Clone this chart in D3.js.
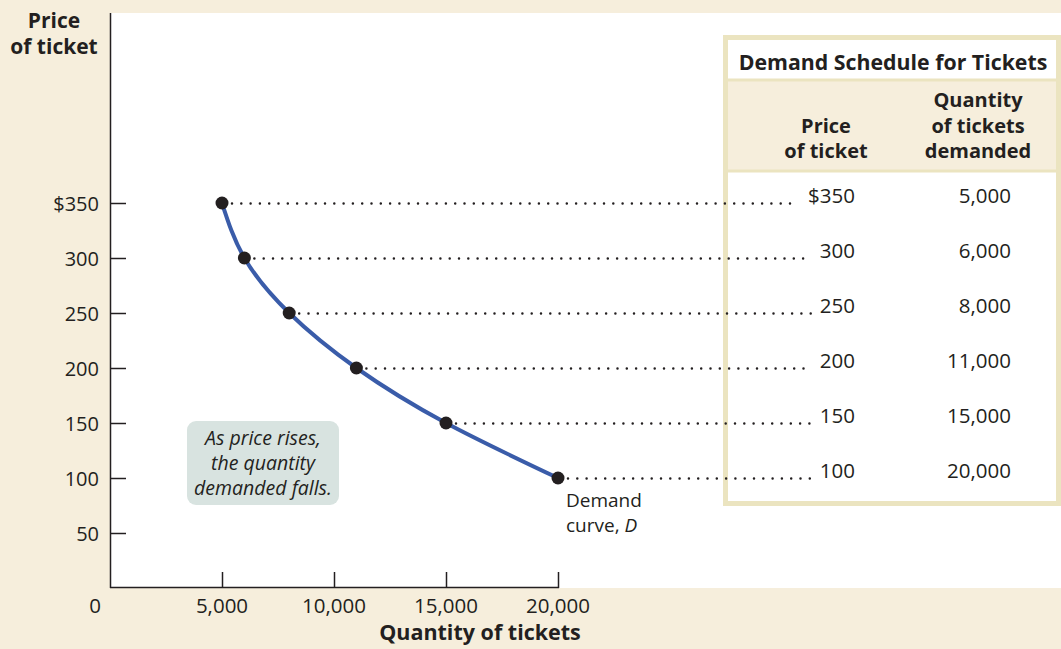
<!DOCTYPE html>
<html>
<head>
<meta charset="utf-8">
<script src="https://cdn.jsdelivr.net/npm/d3@7/dist/d3.min.js"></script>
<style>
  html, body { margin: 0; padding: 0; background: #f6eedc; }
  svg { display: block; font-family: "Open Sans", sans-serif; }
</style>
</head>
<body>
<div id="chart"></div>
<script>
'use strict';

// demand schedule
const prices = [350, 300, 250, 200, 150, 100];
const quantities = [5000, 6000, 8000, 11000, 15000, 20000];
const priceLabels = ['$350', '300', '250', '200', '150', '100'];
const quantityLabels = ['5,000', '6,000', '8,000', '11,000', '15,000', '20,000'];

// axis ticks
const yTicks = [50, 100, 150, 200, 250, 300, 350];
const yTickLabels = ['50', '100', '150', '200', '250', '300', '$350'];
const xTicks = [5000, 10000, 15000, 20000];
const xTickLabels = ['5,000', '10,000', '15,000', '20,000'];

const tableTitle = 'Demand Schedule for Tickets';
const priceHeader = ['Price', 'of ticket'];
const qtyHeader = ['Quantity', 'of tickets', 'demanded'];
const note = ['As price rises,', 'the quantity', 'demanded falls.'];

const W = 1061, H = 649;
const ink = '#231f20';
const beige = '#f6eedc';
const frame = '#ebe4c0';

const svg = d3.select('#chart').append('svg')
    .attr('width', W)
    .attr('height', H);

svg.append('rect')
    .attr('width', W)
    .attr('height', H)
    .attr('fill', beige);

// white panel
svg.append('rect')
    .attr('x', 110)
    .attr('y', 13)
    .attr('width', W - 110)
    .attr('height', 588 - 13)
    .attr('fill', '#fff');

const x = d3.scaleLinear().domain([0, 20000]).range([110, 558]);
const y = d3.scaleLinear().domain([0, 350]).range([588, 203]);

// table box (drawn under the leaders)
const tbl = svg.append('g');
tbl.append('rect')
    .attr('x', 725.5)
    .attr('y', 37.5)
    .attr('width', 333)
    .attr('height', 466)
    .attr('fill', '#fff')
    .attr('stroke', frame)
    .attr('stroke-width', 5);
tbl.append('rect')
    .attr('x', 728)
    .attr('y', 80)
    .attr('width', 328)
    .attr('height', 91)
    .attr('fill', beige);
[80, 171].forEach(yy => {
  tbl.append('line')
      .attr('x1', 728).attr('x2', 1056)
      .attr('y1', yy).attr('y2', yy)
      .attr('stroke', frame)
      .attr('stroke-width', 3);
});

tbl.append('text')
    .attr('x', 893)
    .attr('y', 70)
    .attr('text-anchor', 'middle')
    .attr('font-size', 21.3)
    .attr('font-weight', 'bold')
    .attr('fill', ink)
    .text(tableTitle);

priceHeader.forEach((t, i) => {
  tbl.append('text')
      .attr('x', 826)
      .attr('y', 133 + i * 25)
      .attr('text-anchor', 'middle')
      .attr('font-size', 20)
      .attr('font-weight', 'bold')
      .attr('fill', ink)
      .text(t);
});
qtyHeader.forEach((t, i) => {
  tbl.append('text')
      .attr('x', 978)
      .attr('y', 107 + i * 25.5)
      .attr('text-anchor', 'middle')
      .attr('font-size', 20)
      .attr('font-weight', 'bold')
      .attr('fill', ink)
      .text(t);
});

const priceText = tbl.selectAll('text.price')
  .data(prices)
  .join('text')
    .attr('class', 'price')
    .attr('x', 855)
    .attr('y', d => y(d))
    .attr('text-anchor', 'end')
    .attr('font-size', 20.5)
    .attr('fill', ink)
    .text((d, i) => priceLabels[i]);

tbl.selectAll('text.qty')
  .data(quantities)
  .join('text')
    .attr('class', 'qty')
    .attr('x', 1011)
    .attr('y', (d, i) => y(prices[i]))
    .attr('text-anchor', 'end')
    .attr('font-size', 20.5)
    .attr('fill', ink)
    .text((d, i) => quantityLabels[i]);

// dotted leaders from each point to the table row
const priceStarts = priceText.nodes().map(n => 855 - n.getComputedTextLength());
svg.append('g').selectAll('line')
  .data(prices)
  .join('line')
    .attr('x1', (d, i) => x(quantities[i]) + 10)
    .attr('x2', (d, i) => priceStarts[i] - 9)
    .attr('y1', d => y(d) + 0.5)
    .attr('y2', d => y(d) + 0.5)
    .attr('stroke', ink)
    .attr('stroke-width', 2.5)
    .attr('stroke-linecap', 'round')
    .attr('stroke-dasharray', '0,9.3');

// axes
svg.append('line')
    .attr('x1', 110.5).attr('x2', 110.5)
    .attr('y1', 13).attr('y2', 588)
    .attr('stroke', ink).attr('stroke-width', 1.5);
svg.append('line')
    .attr('x1', 110).attr('x2', x(20000) + 1)
    .attr('y1', 587.5).attr('y2', 587.5)
    .attr('stroke', ink).attr('stroke-width', 1.5);

svg.append('g').selectAll('line')
  .data(yTicks)
  .join('line')
    .attr('x1', 110).attr('x2', 126)
    .attr('y1', d => y(d) + 0.5).attr('y2', d => y(d) + 0.5)
    .attr('stroke', ink).attr('stroke-width', 1.5);
svg.append('g').selectAll('text')
  .data(yTicks)
  .join('text')
    .attr('x', 99)
    .attr('y', d => y(d) + 7.5)
    .attr('text-anchor', 'end')
    .attr('font-size', 20)
    .attr('fill', ink)
    .text((d, i) => yTickLabels[i]);

svg.append('g').selectAll('line')
  .data(xTicks)
  .join('line')
    .attr('x1', d => x(d) + 0.5).attr('x2', d => x(d) + 0.5)
    .attr('y1', 588).attr('y2', 572)
    .attr('stroke', ink).attr('stroke-width', 1.5);
svg.append('g').selectAll('text')
  .data(xTicks)
  .join('text')
    .attr('x', d => x(d))
    .attr('y', 613)
    .attr('text-anchor', 'middle')
    .attr('font-size', 20.5)
    .attr('fill', ink)
    .text((d, i) => xTickLabels[i]);
svg.append('text')
    .attr('x', 95)
    .attr('y', 613)
    .attr('text-anchor', 'middle')
    .attr('font-size', 20.5)
    .attr('fill', ink)
    .text('0');

// axis titles
svg.append('text')
    .attr('x', 480)
    .attr('y', 640)
    .attr('text-anchor', 'middle')
    .attr('font-size', 21.5)
    .attr('font-weight', 'bold')
    .attr('fill', ink)
    .text('Quantity of tickets');
['Price', 'of ticket'].forEach((t, i) => {
  svg.append('text')
      .attr('x', 54)
      .attr('y', 28 + i * 26)
      .attr('text-anchor', 'middle')
      .attr('font-size', 21)
      .attr('font-weight', 'bold')
      .attr('fill', ink)
      .text(t);
});

// demand curve
const pts = quantities.map((q, i) => [q, prices[i]]);
svg.append('path')
    .datum(pts)
    .attr('fill', 'none')
    .attr('stroke', '#3a5ca9')
    .attr('stroke-width', 4)
    .attr('d', d3.line()
      .x(d => x(d[0]))
      .y(d => y(d[1]))
      .curve(d3.curveNatural));

svg.append('g').selectAll('circle')
  .data(pts)
  .join('circle')
    .attr('cx', d => x(d[0]))
    .attr('cy', d => y(d[1]))
    .attr('r', 6.5)
    .attr('fill', ink);

// callout
svg.append('rect')
    .attr('x', 187)
    .attr('y', 421)
    .attr('width', 152)
    .attr('height', 84)
    .attr('rx', 9)
    .attr('fill', '#d8e3e0');
note.forEach((t, i) => {
  svg.append('text')
      .attr('x', 263)
      .attr('y', 445 + i * 25)
      .attr('text-anchor', 'middle')
      .attr('font-size', 19.5)
      .attr('font-style', 'italic')
      .attr('fill', ink)
      .text(t);
});

// curve label
svg.append('text')
    .attr('x', 566)
    .attr('y', 507)
    .attr('font-size', 19)
    .attr('fill', ink)
    .text('Demand');
const lab = svg.append('text')
    .attr('x', 566)
    .attr('y', 532)
    .attr('font-size', 19)
    .attr('fill', ink);
lab.append('tspan').text('curve, ');
lab.append('tspan').attr('font-style', 'italic').text('D');
</script>
</body>
</html>
